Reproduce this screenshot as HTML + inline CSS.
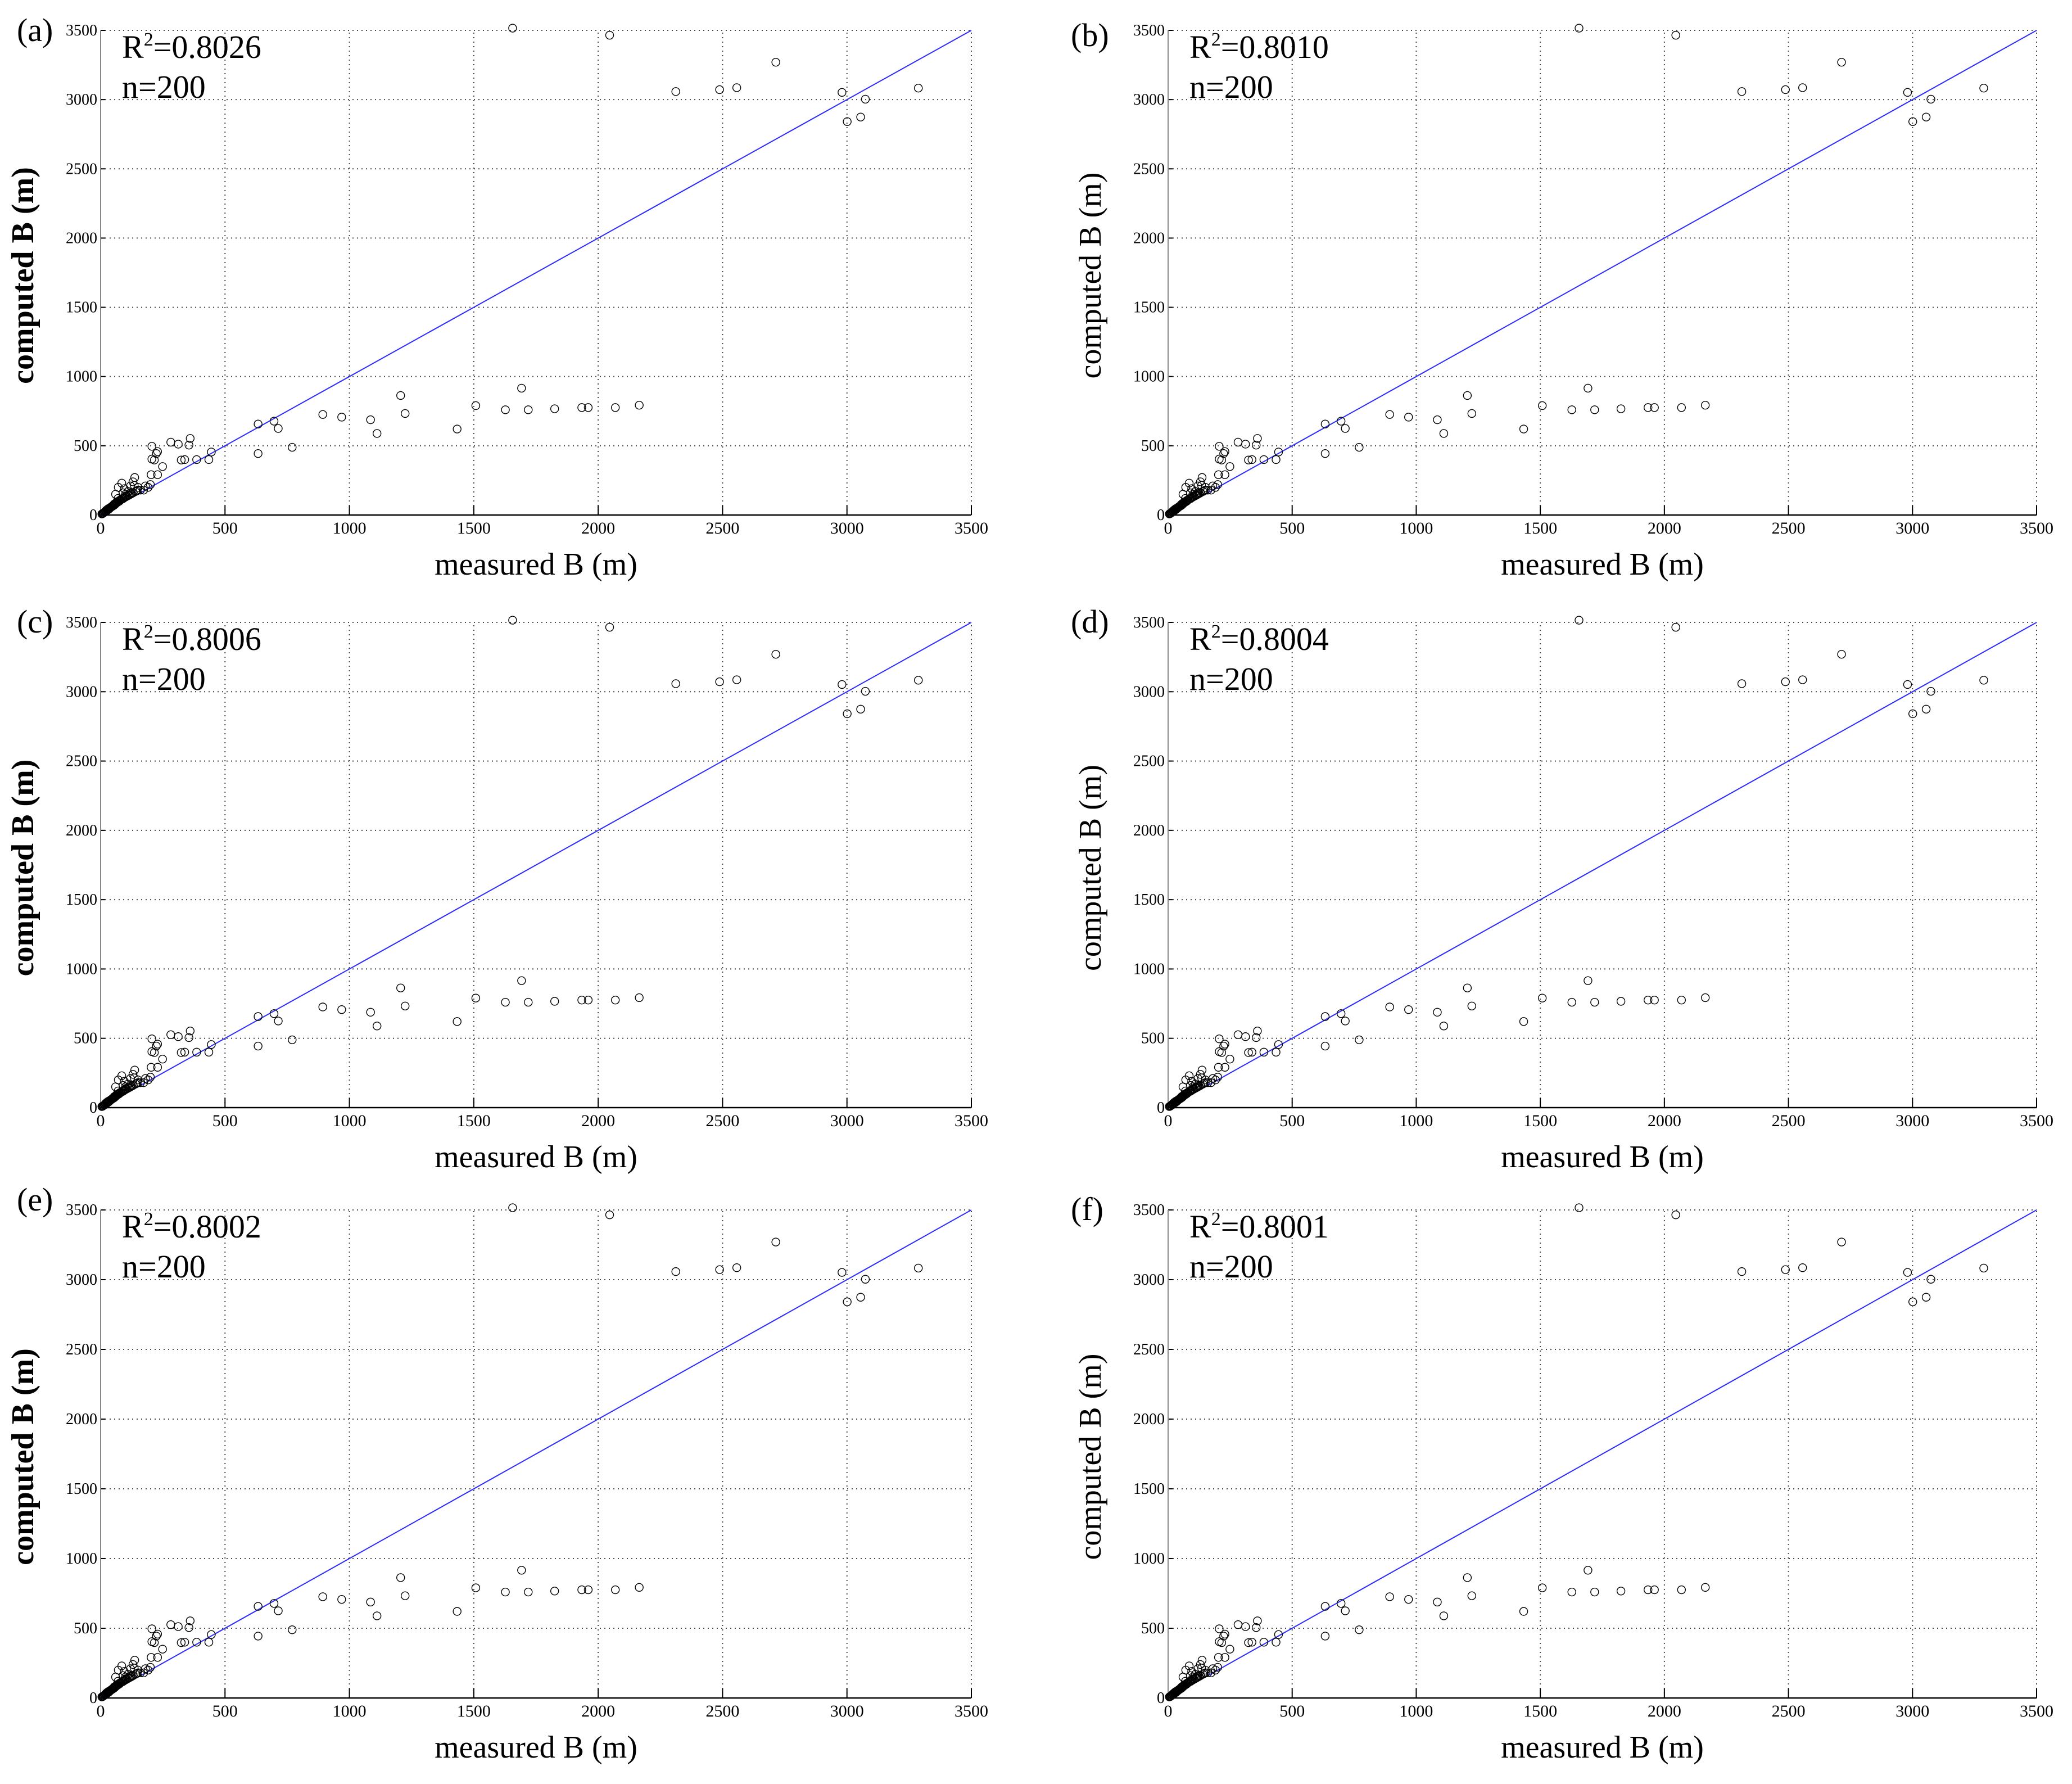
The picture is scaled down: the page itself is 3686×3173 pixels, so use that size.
<!DOCTYPE html>
<html><head><meta charset="utf-8"><title>Measured vs computed B</title>
<style>
html,body{margin:0;padding:0;background:#fff;}
svg{display:block;}
text{font-family:"Liberation Serif",serif;fill:#000;}
</style></head>
<body>
<svg id="fig" width="3686" height="3173" viewBox="0 0 3686 3173" xmlns="http://www.w3.org/2000/svg"></svg>
<script>
const panelLabels = ["(a)","(b)","(c)","(d)","(e)","(f)"];
const r2Values = ["0.8026","0.8010","0.8006","0.8004","0.8002","0.8001"];
const nValue = "200";
const xTicks = [0,500,1000,1500,2000,2500,3000,3500];
const yTicks = [0,500,1000,1500,2000,2500,3000,3500];
const xLabel = "measured B (m)";
const yLabel = "computed B (m)";
const axisMin = 0, axisMax = 3500;
// scatter data: measured B
const measured = [
1656,2046,2312,2488,2557,2714,2980,3001,3055,3074,3287,
633,633,697,714,770,893,969,1085,1111,1206,1224,1433,1508,1627,1692,1719,1825,1934,1960,2069,2165,
206,229,224,206,216,249,203,229,282,312,360,355,324,338,386,435,445,137,85,71,135,191,173,
130,120,95,90,60,70,150,160,180,200,110,100,
5,8,10,12,15,18,20,22,25,28,30,33,35,38,40,42,45,48,50,52,55,58,60,62,65,68,70,72,75,78,80,85,88,90,95,100,105,110,115,120,125,130,140,145,150,
20,30,40,50,60,70,80,90,100,110,120,55,65,75,85,45,35,25
];
// scatter data: computed B
const computed = [
3516,3465,3058,3072,3086,3270,3052,2841,2874,3003,3083,
657,444,678,625,489,726,707,688,589,863,733,621,790,760,916,760,767,776,776,776,793,
496,458,444,404,397,350,291,291,526,512,553,505,397,400,400,400,455,271,230,200,214,200,180,
240,210,190,160,150,120,200,180,210,220,170,150,
8,10,14,15,20,22,28,30,32,36,40,42,46,50,55,58,60,65,66,70,72,78,80,85,90,92,95,100,100,105,110,115,120,118,125,130,135,140,145,150,155,160,170,175,180,
30,45,55,70,85,95,110,120,135,145,160,80,95,105,115,62,50,38
];

const NS = "http://www.w3.org/2000/svg";
const svg = document.getElementById("fig");
function mk(tag, attrs, parent){
  const e = document.createElementNS(NS, tag);
  for (const k in attrs) e.setAttribute(k, attrs[k]);
  (parent||svg).appendChild(e);
  return e;
}
const cols = [{L:179,R:1728,lx:30},{L:2078,R:3623,lx:1905}];
const rows = [{T:54,B:916},{T:1107,B:1970},{T:2152,B:3020}];
const labelDy = [19,28,18,18,1,18];

for (let p=0;p<6;p++){
  const c = cols[p%2], r = rows[Math.floor(p/2)];
  const g = mk("g",{});
  
  
  const sx = v => c.L + (v-axisMin)/(axisMax-axisMin)*(c.R-c.L);
  const sy = v => r.B - (v-axisMin)/(axisMax-axisMin)*(r.B-r.T);
  // grid
  xTicks.forEach(t=>{
    if (t===0) return;
    const l = mk("line",{x1:sx(t),x2:sx(t),y1:r.B,y2:r.T,stroke:"#444","stroke-width":2,"stroke-dasharray":"2 6"},g);
    
    
    const tk = mk("line",{x1:sx(t),x2:sx(t),y1:r.B,y2:r.B-17,stroke:"#000","stroke-width":2},g);
    
    
  });
  yTicks.forEach(t=>{
    if (t===0) return;
    const l = mk("line",{x1:c.L,x2:c.R,y1:sy(t),y2:sy(t),stroke:"#444","stroke-width":2,"stroke-dasharray":"2 6"},g);
    
    
    const tk = mk("line",{x1:c.L,x2:c.L+8,y1:sy(t),y2:sy(t),stroke:"#000","stroke-width":2},g);
    
    
  });
  // axes
  const ya = mk("line",{x1:c.L,x2:c.L,y1:r.T,y2:r.B,stroke:"#888","stroke-width":2},g);
  
  
  const xa = mk("line",{x1:c.L,x2:c.R,y1:r.B,y2:r.B,stroke:"#000","stroke-width":2.5},g);
  
  
  // tick labels
  xTicks.forEach(t=>{
    const tx = mk("text",{x:sx(t),y:r.B+33,"font-size":30,"text-anchor":"middle"},g);
    tx.textContent = t;
    
    
  });
  yTicks.forEach(t=>{
    const tx = mk("text",{x:c.L-6,y:sy(t)+9,"font-size":28,"text-anchor":"end"},g);
    tx.textContent = t;
    
    
  });
  // 1:1 line
  const dl = mk("line",{x1:sx(0),y1:sy(0),x2:sx(3500),y2:sy(3500),stroke:"#2b2bff","stroke-width":2},g);
  
  
  // points
  for (let i=0;i<measured.length;i++){
    const pt = mk("circle",{cx:sx(measured[i]),cy:sy(computed[i]),r:7,fill:"none",stroke:"#000","stroke-width":1.4},g);
    
    
  }
  // annotations
  const r2 = mk("text",{x:c.L+38,y:r.T+49,"font-size":58},g);
  r2.innerHTML = 'R<tspan font-size="34" dy="-22">2</tspan><tspan dy="22">=' + r2Values[p] + '</tspan>';
  
  
  const nt = mk("text",{x:c.L+38,y:r.T+120,"font-size":58},g);
  nt.textContent = "n=" + nValue;
  
  
  const pl = mk("text",{x:c.lx,y:r.T+labelDy[p],"font-size":58},g);
  pl.textContent = panelLabels[p];
  
  
  const xl = mk("text",{x:(c.L+c.R)/2,y:r.B+106,"font-size":56,"text-anchor":"middle"},g);
  xl.textContent = xLabel;
  
  
  const cy = (r.T+r.B)/2 + 5, cx = c.L-120;
  const yl = mk("text",{x:cx,y:cy,"font-size":56,"text-anchor":"middle","font-weight":(p%2===0?"bold":"normal"),transform:"rotate(-90 "+cx+" "+cy+")"},g);
  yl.textContent = yLabel;
  
  
}
</script>
</body></html>
